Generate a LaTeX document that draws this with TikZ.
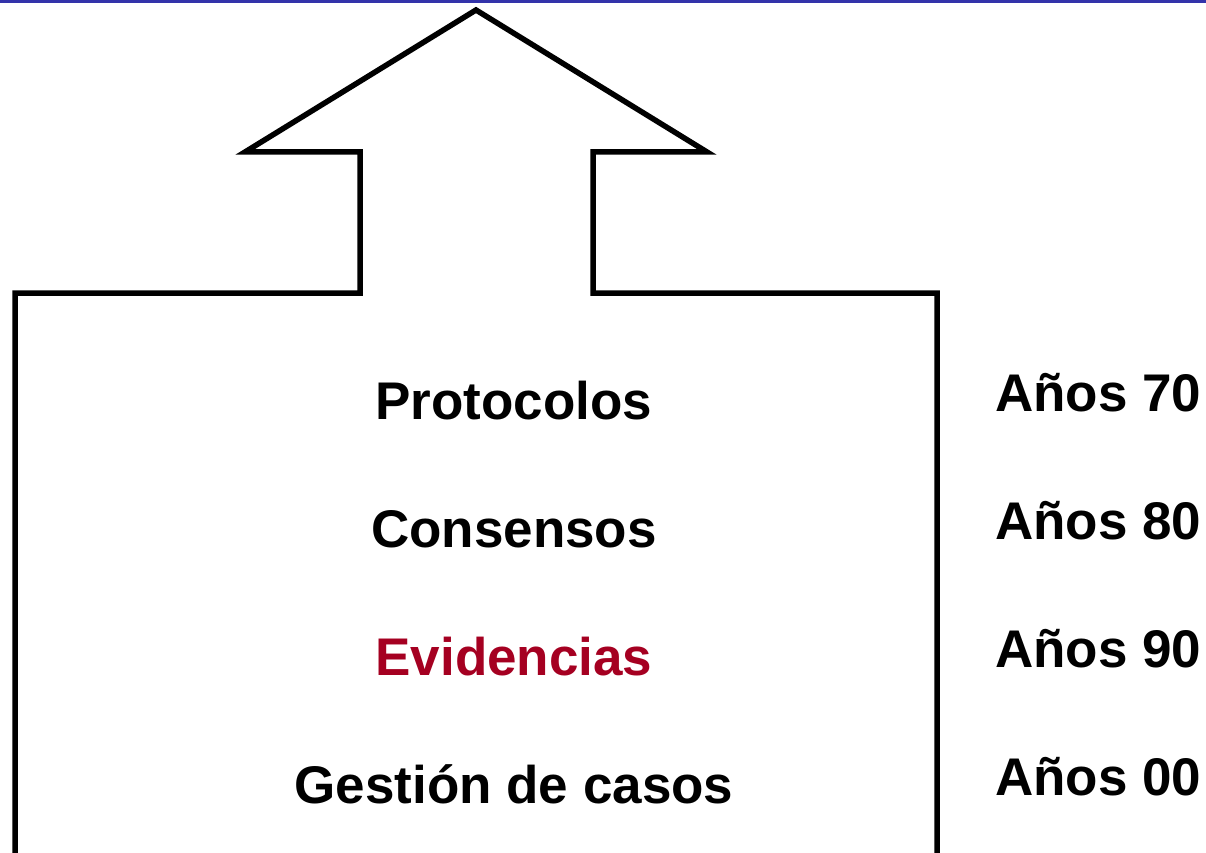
\documentclass[tikz,border=0pt]{standalone}
\usepackage{fontspec}
\setmainfont{Liberation Sans}
\definecolor{evred}{HTML}{A50021}
\definecolor{topblue}{HTML}{3333AA}
\begin{document}
\begin{tikzpicture}[x=1pt,y=-1pt,
  lbl/.style={font=\bfseries\fontsize{53}{60}\selectfont, inner sep=0pt, anchor=base},
  yr/.style={font=\bfseries\fontsize{53}{60}\selectfont, inner sep=0pt, anchor=base west},
  outline/.style={line width=5.5pt, line join=miter, draw=black}]
\useasboundingbox (0,0) rectangle (1206,853);
\fill[topblue] (0,0) rectangle (1206,3);
\draw[outline] (15,856) -- (15,293) -- (360,293) -- (360,152) -- (245,152) -- (476,10) -- (707,152) -- (593,152) -- (593,293) -- (937,293) -- (937,856);
\node[lbl] (p) at (514,419) {Protocolos};
\node[lbl] (c) at (514,547) {Consensos};
\node[lbl, text=evred] (e) at (514,675) {Evidencias};
\node[lbl] (g) at (514,803) {Gestión de casos};
\node[yr] (a70) at (995,411) {Años 70};
\node[yr] (a80) at (995,539) {Años 80};
\node[yr] (a90) at (995,667) {Años 90};
\node[yr] (a00) at (995,795) {Años 00};
\end{tikzpicture}
\end{document}
